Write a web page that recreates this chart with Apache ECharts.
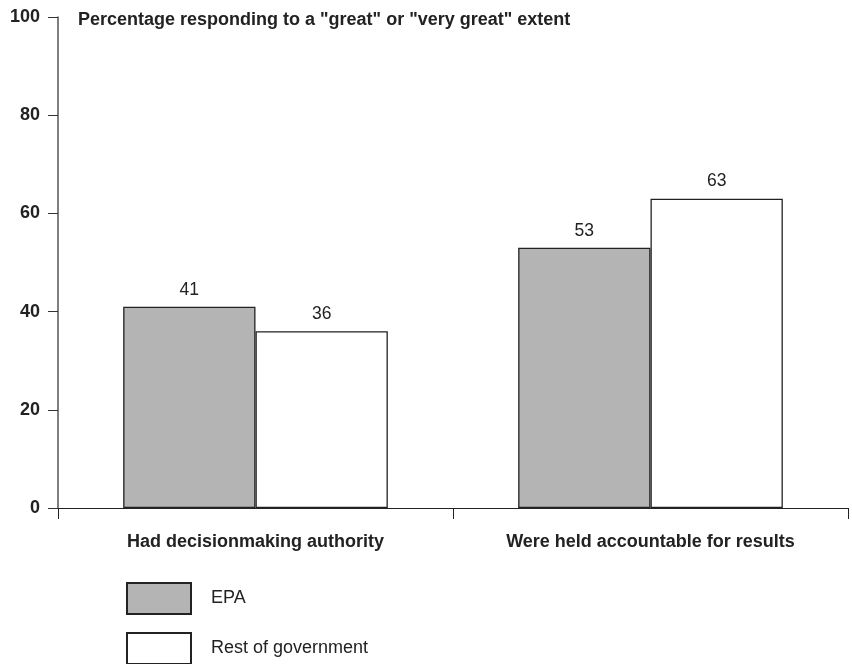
<!DOCTYPE html>
<html>
<head>
<meta charset="utf-8">
<title>EPA vs rest of government</title>
<script src="https://cdn.jsdelivr.net/npm/echarts@6/dist/echarts.min.js"></script>
<style>
  html, body { margin: 0; padding: 0; background: #fff; }
  #main { width: 852px; height: 664px; }
</style>
</head>
<body>
<div id="main"></div>
<script>
var categories = ['Had decisionmaking authority', 'Were held accountable for results'];
var epaValues = [41, 53];
var restValues = [36, 63];
var seriesNames = ['EPA', 'Rest of government'];
var yTicks = [0, 20, 40, 60, 80, 100];

var font = '"Liberation Sans", Arial, sans-serif';
var chart = echarts.init(document.getElementById('main'));

// one legend per entry so they stack like the original
function makeLegend(name, top) {
    return {
        orient: 'vertical',
        left: 126,
        top: top,
        padding: 0,
        itemWidth: 64,
        itemHeight: 31,
        icon: 'rect',
        data: [name],
        textStyle: { fontFamily: font, fontSize: 18, color: '#222', padding: [14, 0, 0, 15] }
    };
}

var option = {
    backgroundColor: '#ffffff',
    animation: false,
    title: {
        text: 'Percentage responding to a "great" or "very great" extent',
        left: 73,
        top: 6,
        textStyle: { fontFamily: font, fontSize: 18, fontWeight: 'bold', color: '#222' }
    },
    legend: [makeLegend(seriesNames[0], 582), makeLegend(seriesNames[1], 632)],
    grid: { left: 58, right: 4, top: 17, bottom: 156, containLabel: false },
    xAxis: {
        type: 'category',
        data: categories,
        axisLine: { lineStyle: { color: '#222', width: 1.2 } },
        axisTick: { show: true, length: 11, lineStyle: { color: '#222' } },
        axisLabel: { margin: 25, fontFamily: font, fontSize: 18, fontWeight: 'bold', color: '#222' }
    },
    yAxis: {
        type: 'value',
        min: yTicks[0],
        max: yTicks[yTicks.length - 1],
        interval: 20,
        axisLine: { show: true, lineStyle: { color: '#555', width: 1.5 } },
        axisTick: { show: true, length: 10, lineStyle: { color: '#333' } },
        splitLine: { show: false },
        axisLabel: { margin: 18, fontFamily: font, fontSize: 18, fontWeight: 'bold', color: '#222' }
    },
    series: [
        {
            name: seriesNames[0],
            type: 'bar',
            data: epaValues,
            barGap: '0%',
            barCategoryGap: '33%',
            itemStyle: { color: '#b4b4b4', borderColor: '#222', borderWidth: 1.3 },
            label: { show: true, position: 'top', distance: 8, fontFamily: font, fontSize: 17.5, color: '#222' }
        },
        {
            name: seriesNames[1],
            type: 'bar',
            data: restValues,
            itemStyle: { color: '#ffffff', borderColor: '#222', borderWidth: 1.3 },
            label: { show: true, position: 'top', distance: 8, fontFamily: font, fontSize: 17.5, color: '#222' }
        }
    ]
};

chart.setOption(option);
window.addEventListener('resize', function () {
    chart.resize();
});
</script>
</body>
</html>
